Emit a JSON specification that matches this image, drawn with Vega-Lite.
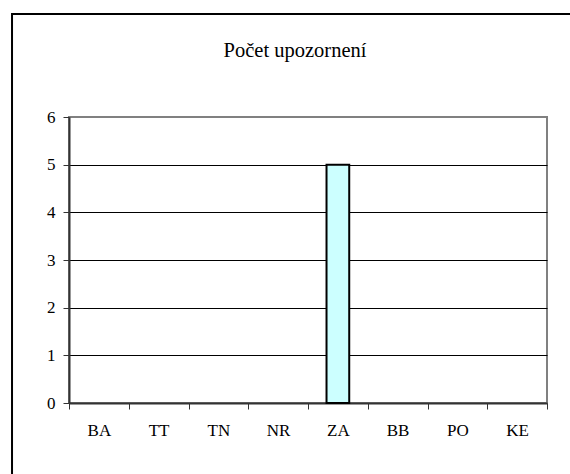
{
  "$schema": "https://vega.github.io/schema/vega-lite/v6.json",
  "width": 478,
  "height": 286,
  "autosize": {"type": "none"},
  "padding": {"left": 69, "top": 117, "right": 23, "bottom": 71},
  "background": "white",
  "title": {
    "text": "Počet upozornení",
    "font": "Liberation Serif",
    "fontSize": 20.5,
    "fontWeight": "normal",
    "color": "black",
    "anchor": "middle",
    "baseline": "alphabetic",
    "dx": -13,
    "offset": -64
  },
  "config": {
    "view": {"stroke": "#808080", "strokeWidth": 2},
    "axis": {
      "labelFont": "Liberation Serif",
      "labelFontSize": 17,
      "labelColor": "black",
      "domainColor": "#333333",
      "domainWidth": 2,
      "tickColor": "#333333",
      "tickWidth": 1,
      "tickSize": 6
    }
  },
  "datasets": {
    "counts": [
      {"kraj": "BA", "pocet": 0},
      {"kraj": "TT", "pocet": 0},
      {"kraj": "TN", "pocet": 0},
      {"kraj": "NR", "pocet": 0},
      {"kraj": "ZA", "pocet": 5},
      {"kraj": "BB", "pocet": 0},
      {"kraj": "PO", "pocet": 0},
      {"kraj": "KE", "pocet": 0}
    ],
    "frame": [
      {"left": -0.1192, "right": 1.3, "top": 8.16, "bottom": -3}
    ]
  },
  "layer": [
    {
      "data": {"name": "frame"},
      "mark": {"type": "rect", "fill": null, "fillOpacity": 0, "stroke": "black", "strokeWidth": 2, "clip": false},
      "encoding": {
        "x": {"field": "left", "type": "quantitative", "scale": {"domain": [0, 1], "nice": false, "zero": false}, "axis": null},
        "x2": {"field": "right"},
        "y": {"field": "top", "type": "quantitative", "scale": {"domain": [0, 6], "nice": false, "zero": false}, "axis": null},
        "y2": {"field": "bottom"}
      }
    },
    {
      "data": {"name": "counts"},
      "mark": {"type": "bar", "fill": "#CCFFFF", "stroke": "black", "strokeWidth": 2, "width": {"band": 0.38}},
      "encoding": {
        "x": {
          "field": "kraj",
          "type": "nominal",
          "sort": null,
          "scale": {"paddingInner": 0, "paddingOuter": 0},
          "axis": {
            "title": null,
            "labelAngle": 0,
            "tickBand": "extent",
            "labelBaseline": "alphabetic",
            "labelPadding": 26,
            "grid": false
          }
        },
        "y": {
          "field": "pocet",
          "type": "quantitative",
          "scale": {"domain": [0, 6], "nice": false},
          "axis": {
            "title": null,
            "values": [0, 1, 2, 3, 4, 5, 6],
            "format": "d",
            "labelPadding": 8,
            "grid": true,
            "gridColor": "black",
            "gridWidth": 1,
            "gridOpacity": {"condition": {"test": "datum.value === 0 || datum.value === 6", "value": 0}, "value": 1}
          }
        },
        "strokeOpacity": {"condition": {"test": "datum.pocet === 0", "value": 0}, "value": 1},
        "fillOpacity": {"condition": {"test": "datum.pocet === 0", "value": 0}, "value": 1}
      }
    }
  ],
  "resolve": {"scale": {"x": "independent", "y": "independent"}}
}
